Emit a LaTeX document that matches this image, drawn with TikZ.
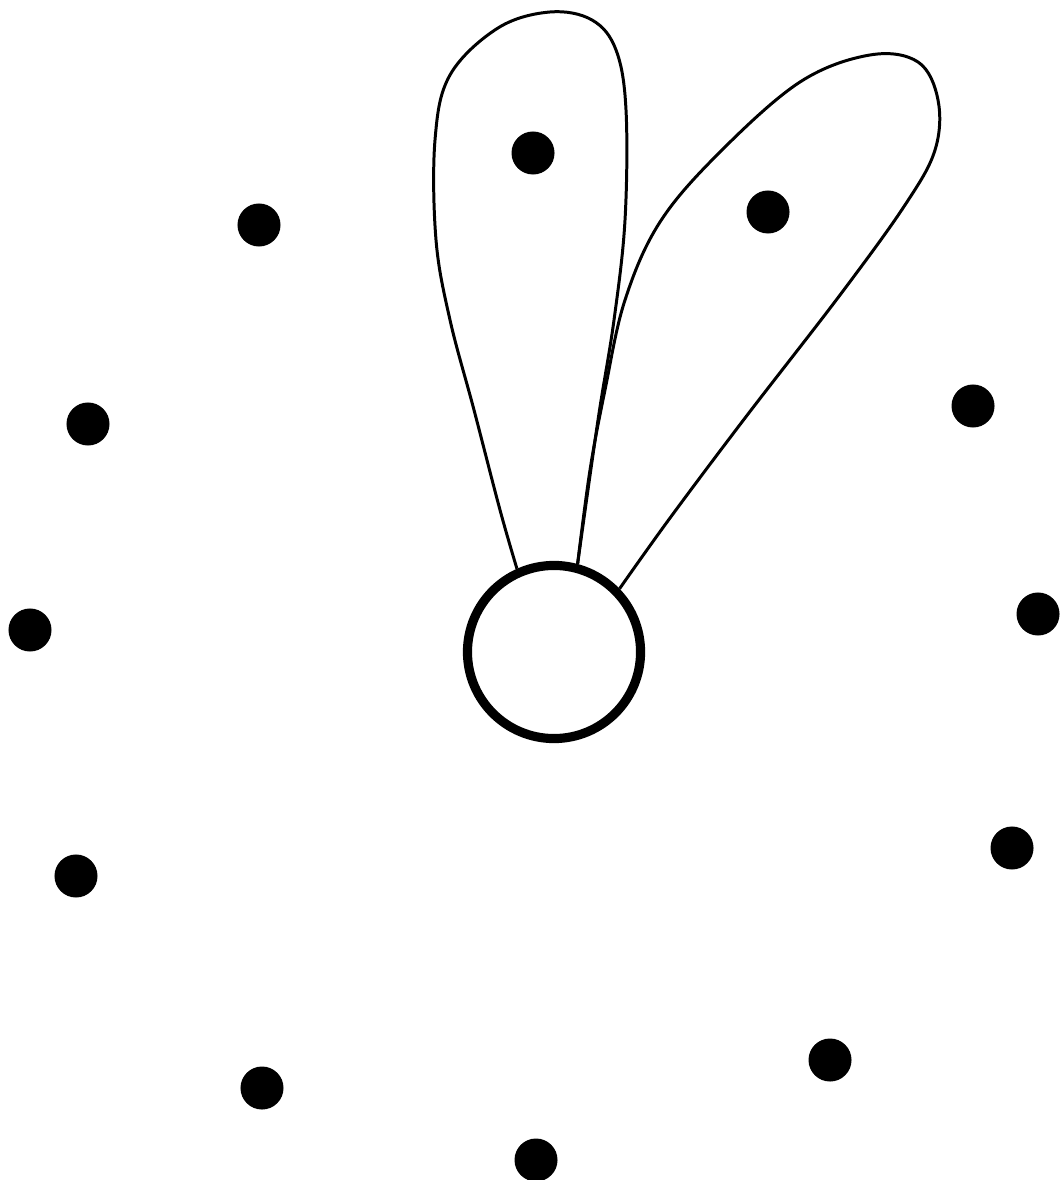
\documentclass[tikz,border=0pt]{standalone}
\usepackage{tikz}
\usetikzlibrary{positioning}

\begin{document}
\begin{tikzpicture}[x=0.01cm, y=-0.01cm,
    dot/.style={circle, fill=black, inner sep=0pt, minimum size=0.43cm},
    loopline/.style={line width=0.85pt, line join=round}]
    \useasboundingbox (0,0) rectangle (1060,1180);
    \node[draw, circle, line width=2.6pt, inner sep=0pt, minimum size=1.73cm] (c) at (554,652) {};
    \node[dot] (d1) at (533,153) {};
    \node[dot] (d2) at (768,212) {};
    \node[dot] (d3) at (259,225) {};
    \node[dot] (d4) at (88,424) {};
    \node[dot] (d5) at (973,406) {};
    \node[dot] (d6) at (30,630) {};
    \node[dot] (d7) at (1038,614) {};
    \node[dot] (d8) at (76,876) {};
    \node[dot] (d9) at (1012,848) {};
    \node[dot] (d10) at (262,1088) {};
    \node[dot] (d11) at (830,1060) {};
    \node[dot] (d12) at (536,1160) {};
    \draw[loopline] plot[smooth, tension=0.6] coordinates {(c.114) (500,510) (474,410) (450,320) (436,240) (435,140) (450,75) (498,28) (550,12) (592,20) (616,50) (626,110) (625,220) (614,320) (598,420) (c.75)};
    \draw[loopline] plot[smooth, tension=0.6] coordinates {(c.75) (590,470) (605,390) (625,300) (660,222) (720,152) (800,82) (870,55) (918,62) (938,100) (935,150) (905,205) (840,295) (745,418) (670,518) (c.44)};
\end{tikzpicture}
\end{document}
